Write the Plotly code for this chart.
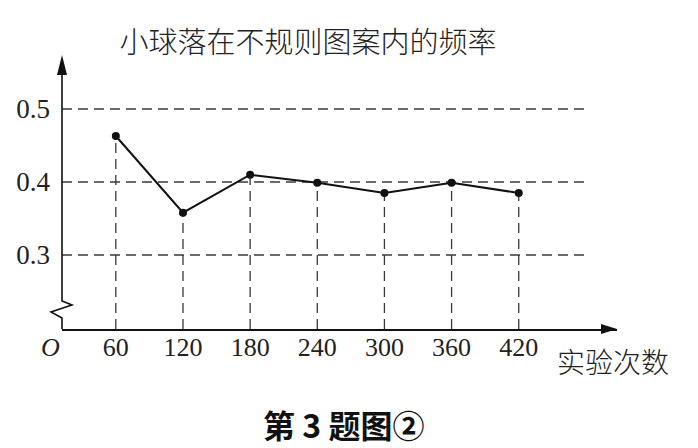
import plotly.graph_objects as go

# data
trials = [60, 120, 180, 240, 300, 360, 420]
freq = [0.463, 0.358, 0.410, 0.399, 0.385, 0.399, 0.385]
grid_y = [0.3, 0.4, 0.5]
x_ticks = [60, 120, 180, 240, 300, 360, 420]
y_ticks = [0.3, 0.4, 0.5]

title_text = '小球落在不规则图案内的频率'
x_label = '实验次数'
caption = '第 3 题图②'

# the page body adds an 8px margin, so the figure is drawn 8px smaller
OFF = 8
W, H = 698 - OFF, 448 - OFF
M_L, M_R, M_T, M_B = 62 - OFF, 81, 55 - OFF, 119
X_MIN, X_MAX = 11.9, 507.8
Y_MIN, Y_MAX = 0.1986, 0.574
GRID_END = 482
PLOT_W = W - M_L - M_R
PLOT_H = H - M_T - M_B


def px(x):
    # screenshot pixel -> paper x
    return (x - OFF - M_L) / PLOT_W


def py(y):
    # screenshot pixel -> paper y
    return (H - M_B - (y - OFF)) / PLOT_H


serif = 'Liberation Serif'
cjk = 'Noto Sans CJK SC'
dash_line = dict(color='#3a3a3a', width=1.3, dash='10px,6px')

fig = go.Figure()
fig.add_trace(go.Scatter(
    x=trials, y=freq, mode='lines+markers',
    line=dict(color='#111111', width=2),
    marker=dict(color='#111111', size=8),
    showlegend=False, hoverinfo='skip'))

shapes = []
for gy in grid_y:
    shapes.append(dict(type='line', xref='x', yref='y', x0=X_MIN, x1=GRID_END,
                       y0=gy, y1=gy, line=dash_line, layer='below'))
for tx, fy in zip(trials, freq):
    shapes.append(dict(type='line', xref='x', yref='y', x0=tx, x1=tx,
                       y0=Y_MIN, y1=fy, line=dash_line, layer='below'))

axis_line = dict(color='#111111', width=1.6)
ax_x, ax_y, top, right = 62, 329, 55, 617
# y axis with the break near the bottom
zig = [(ax_x, top + 5), (ax_x, ax_y - 28), (ax_x + 10, ax_y - 24),
       (ax_x - 11, ax_y - 17), (ax_x, ax_y - 11), (ax_x, ax_y)]
path = 'M' + ' L'.join(f'{px(a):.4f},{py(b):.4f}' for a, b in zig)
shapes.append(dict(type='path', xref='paper', yref='paper', path=path, line=axis_line))
# arrow heads
shapes.append(dict(type='path', xref='paper', yref='paper',
                   path=f'M{px(ax_x):.4f},{py(top):.4f} L{px(ax_x - 5):.4f},{py(top + 20):.4f} '
                        f'L{px(ax_x + 5):.4f},{py(top + 20):.4f} Z',
                   fillcolor='#111111', line=dict(width=0)))
shapes.append(dict(type='path', xref='paper', yref='paper',
                   path=f'M{px(right):.4f},{py(ax_y):.4f} L{px(right - 16):.4f},{py(ax_y - 5):.4f} '
                        f'L{px(right - 16):.4f},{py(ax_y + 5):.4f} Z',
                   fillcolor='#111111', line=dict(width=0)))

annotations = [
    dict(text='O', xref='paper', yref='paper', x=px(50), y=py(347),
         xanchor='center', yanchor='middle', showarrow=False,
         font=dict(family=serif, size=26, color='#222222', style='italic')),
    dict(text=x_label, xref='paper', yref='paper', x=px(613), y=py(361),
         xanchor='center', yanchor='middle', showarrow=False,
         font=dict(family=cjk, size=28, color='#222222', weight=300)),
    dict(text=caption, xref='paper', yref='paper', x=px(343), y=py(424),
         xanchor='center', yanchor='middle', showarrow=False,
         font=dict(family=cjk, size=32, color='#111111', weight='bold')),
]

fig.update_layout(
    width=W, height=H,
    margin=dict(l=M_L, r=M_R, t=M_T, b=M_B),
    paper_bgcolor='white', plot_bgcolor='white',
    title=dict(text=title_text, x=(308 - OFF) / W, y=1 - (43 - OFF) / H,
               xanchor='center', yanchor='middle',
               font=dict(family=cjk, size=29, color='#222222', weight=300)),
    xaxis=dict(range=[X_MIN, X_MAX], showgrid=False, zeroline=False, automargin=False,
               showline=True, linecolor='#111111', linewidth=1.6,
               tickvals=x_ticks, ticktext=[str(v) for v in x_ticks], ticks='',
               ticklabelstandoff=-6,
               tickfont=dict(family=serif, size=26, color='#222222')),
    yaxis=dict(range=[Y_MIN, Y_MAX], showgrid=False, zeroline=False, showline=False,
               automargin=False,
               tickvals=y_ticks, ticktext=[f'{v:.1f}' for v in y_ticks], ticks='',
               ticklabelstandoff=11,
               tickfont=dict(family=serif, size=27, color='#222222')),
    shapes=shapes, annotations=annotations,
)

fig.write_html('out.html')
